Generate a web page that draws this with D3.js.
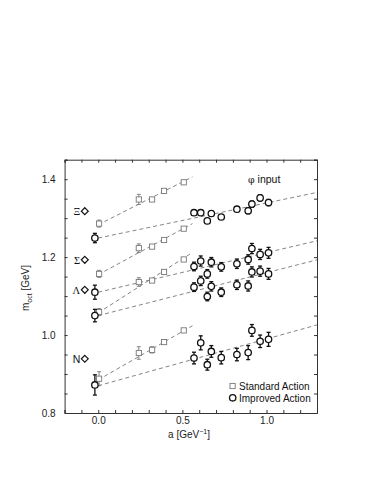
<!DOCTYPE html>
<html><head><meta charset="utf-8">
<script src="https://cdn.jsdelivr.net/npm/d3@7"></script>
<style>body{margin:0;background:#fff}svg{display:block}</style>
</head><body>
<svg id="c" width="382" height="494"></svg>
<script>
// ---- data ----
const xTicks = [0.0, 0.5, 1.0];
const yTicks = [0.8, 1.0, 1.2, 1.4];
const baryons = ["Ξ", "Σ", "Λ", "N"];
const expMass = [1.318, 1.193, 1.116, 0.939];

// Standard action (squares)
const stdA = [0.005, 0.241, 0.32, 0.391, 0.508];
const stdXi = [1.286, 1.348, 1.348, 1.370, 1.392];
const stdXiErr = [0.009, 0.013, 0.004, 0.004, 0.004];
const stdSigma = [1.157, 1.223, 1.227, 1.244, 1.273];
const stdSigmaErr = [0.009, 0.011, 0.004, 0.004, 0.004];
const stdLambda = [1.059, 1.136, 1.140, 1.162, 1.194];
const stdLambdaErr = [0.009, 0.011, 0.004, 0.004, 0.004];
const stdN = [0.888, 0.954, 0.962, 0.982, 1.012];
const stdNErr = [0.018, 0.016, 0.008, 0.005, 0.004];

// Improved action (circles)
const impA = [-0.02, 0.569, 0.609, 0.648, 0.672, 0.731, 0.824, 0.891, 0.913, 0.962, 1.012];
const impXi = [1.249, 1.314, 1.314, 1.293, 1.312, 1.303, 1.323, 1.319, 1.336, 1.352, 1.340];
const impXiErr = [0.012, 0.006, 0.006, 0.006, 0.006, 0.006, 0.006, 0.008, 0.008, 0.008, 0.008];
const impSigma = [1.110, 1.176, 1.190, 1.157, 1.187, 1.175, 1.183, 1.194, 1.222, 1.207, 1.211];
const impSigmaErr = [0.018, 0.011, 0.013, 0.011, 0.012, 0.011, 0.012, 0.012, 0.013, 0.013, 0.014];
const impLambda = [1.050, 1.123, 1.139, 1.099, 1.125, 1.110, 1.129, 1.126, 1.162, 1.164, 1.157];
const impLambdaErr = [0.016, 0.011, 0.012, 0.011, 0.012, 0.011, 0.012, 0.013, 0.013, 0.013, 0.014];
const impN = [0.872, 0.941, 0.980, 0.924, 0.958, 0.942, 0.950, 0.955, 1.012, 0.984, 0.989];
const impNErr = [0.026, 0.015, 0.018, 0.014, 0.015, 0.016, 0.016, 0.018, 0.015, 0.016, 0.018];

// linear fits: [a_start, m_start, a_end, m_end]
const stdFitXi = [0, 1.283, 0.56, 1.406];
const stdFitSigma = [0, 1.155, 0.56, 1.286];
const stdFitLambda = [0, 1.057, 0.56, 1.212];
const stdFitN = [0, 0.885, 0.56, 1.024];
const impFitXi = [0, 1.249, 1.3, 1.366];
const impFitSigma = [0, 1.110, 1.3, 1.242];
const impFitLambda = [0, 1.050, 1.3, 1.193];
const impFitN = [0, 0.870, 1.3, 1.026];

// ---- drawing ----
const svg = d3.select("#c");
const L = 64.6, R = 317, T = 159.7, B = 413;
const x = d3.scaleLinear().domain([-0.2, 1.3]).range([L, R]);
const y = d3.scaleLinear().domain([0.8, 1.45]).range([B, T]);
const sans = "'Liberation Sans', Arial, sans-serif";
const serif = "'Liberation Serif', 'Times New Roman', serif";
const axisCol = "#333";

// frame with inward ticks
const g = svg.append("g");
const minorX = d3.range(-0.2, 1.3001, 0.1);
const minorY = d3.range(0.8, 1.4501, 0.05);
const bx = g.append("g").attr("transform", `translate(0,${B})`).call(d3.axisBottom(x).tickValues(minorX).tickSize(-3).tickFormat(""));
const tx = g.append("g").attr("transform", `translate(0,${T})`).call(d3.axisTop(x).tickValues(minorX).tickSize(-3).tickFormat(""));
const ly = g.append("g").attr("transform", `translate(${L},0)`).call(d3.axisLeft(y).tickValues(minorY).tickSize(-3).tickFormat(""));
const ry = g.append("g").attr("transform", `translate(${R},0)`).call(d3.axisRight(y).tickValues(minorY).tickSize(-3).tickFormat(""));
[bx, tx, ly, ry].forEach(a => { a.select(".domain").attr("stroke", axisCol); a.selectAll("line").attr("stroke", axisCol); });
// labels
const bl = g.append("g").attr("transform", `translate(0,${B})`).call(d3.axisBottom(x).tickValues(xTicks).tickSize(0).tickPadding(4).tickFormat(d3.format(".1f")));
bl.select(".domain").remove();
bl.selectAll("text").attr("font-family", sans).attr("font-size", 10).attr("fill", "#222");
const ll = g.append("g").attr("transform", `translate(${L},0)`).call(d3.axisLeft(y).tickValues(yTicks).tickSize(0).tickPadding(9).tickFormat(d3.format(".1f")));
ll.select(".domain").remove();
ll.selectAll("text").attr("font-family", sans).attr("font-size", 10).attr("fill", "#222");

// axis titles
const xt = svg.append("text").attr("x", 189).attr("y", 437.5).attr("text-anchor", "middle")
  .attr("font-family", sans).attr("font-size", 10).attr("fill", "#222");
xt.append("tspan").text("a [GeV");
xt.append("tspan").attr("font-size", 7).attr("dy", -4).text("−1");
xt.append("tspan").attr("dy", 4).text("]");
const yt = svg.append("text").attr("transform", "translate(29,288) rotate(-90)").attr("text-anchor", "middle")
  .attr("font-family", sans).attr("font-size", 10).attr("fill", "#222");
yt.append("tspan").text("m");
yt.append("tspan").attr("font-size", 7).attr("dy", 3).text("oct");
yt.append("tspan").attr("dy", -3).text(" [GeV]");

// fit lines
const fits = [stdFitXi, stdFitSigma, stdFitLambda, stdFitN, impFitXi, impFitSigma, impFitLambda, impFitN];
svg.append("g").selectAll("line").data(fits).join("line")
  .attr("x1", d => x(d[0])).attr("y1", d => y(d[1]))
  .attr("x2", d => x(d[2])).attr("y2", d => y(d[3]))
  .attr("stroke", "#777").attr("stroke-width", 0.9).attr("stroke-dasharray", "4,3");

// error bars + markers
function series(as, ms, es, col, kind) {
  const pts = as.map((a, i) => ({a, m: ms[i], e: es[i]}));
  const gg = svg.append("g");
  const sw = kind === "sq" ? 0.9 : 1.3;
  gg.selectAll("line.v").data(pts).join("line").attr("class", "v")
    .attr("x1", d => x(d.a)).attr("x2", d => x(d.a)).attr("y1", d => y(d.m - d.e)).attr("y2", d => y(d.m + d.e))
    .attr("stroke", col).attr("stroke-width", sw);
  [1, -1].forEach(s => {
    gg.selectAll("line.c" + (s > 0 ? "p" : "m")).data(pts).join("line").attr("class", "c" + (s > 0 ? "p" : "m"))
      .attr("x1", d => x(d.a) - 2).attr("x2", d => x(d.a) + 2)
      .attr("y1", d => y(d.m + s * d.e)).attr("y2", d => y(d.m + s * d.e))
      .attr("stroke", col).attr("stroke-width", sw);
  });
  if (kind === "sq") {
    gg.selectAll("rect").data(pts).join("rect")
      .attr("x", d => x(d.a) - 2.6).attr("y", d => y(d.m) - 2.6).attr("width", 5.2).attr("height", 5.2)
      .attr("fill", "#fff").attr("stroke", col).attr("stroke-width", 0.9);
  } else {
    gg.selectAll("circle").data(pts).join("circle")
      .attr("cx", d => x(d.a)).attr("cy", d => y(d.m)).attr("r", 3.2)
      .attr("fill", "#fff").attr("stroke", col).attr("stroke-width", 1.3);
  }
}
series(stdA, stdXi, stdXiErr, "#777", "sq");
series(stdA, stdSigma, stdSigmaErr, "#777", "sq");
series(stdA, stdLambda, stdLambdaErr, "#777", "sq");
series(stdA, stdN, stdNErr, "#777", "sq");
series(impA, impXi, impXiErr, "#111", "ci");
series(impA, impSigma, impSigmaErr, "#111", "ci");
series(impA, impLambda, impLambdaErr, "#111", "ci");
series(impA, impN, impNErr, "#111", "ci");

// experimental values: diamonds + labels
const dg = svg.append("g");
dg.selectAll("path").data(expMass).join("path")
  .attr("d", d3.symbol().type(d3.symbolDiamond2).size(30))
  .attr("transform", d => `translate(${x(-0.08)},${y(d)})`)
  .attr("fill", "#fff").attr("stroke", "#111").attr("stroke-width", 1.2);
dg.selectAll("text").data(baryons).join("text")
  .attr("x", x(-0.107)).attr("y", (d, i) => y(expMass[i]) + 3.8).attr("text-anchor", "end")
  .attr("font-family", (d, i) => i === 3 ? sans : serif).attr("font-size", 10.5).attr("fill", "#111")
  .text(d => d);

// phi input
const pt = svg.append("text").attr("x", 248).attr("y", 183).attr("font-size", 10.5).attr("fill", "#111").attr("font-family", sans);
pt.append("tspan").attr("font-family", "'DejaVu Serif', serif").attr("font-size", 9.5).text("φ");
pt.append("tspan").text(" input");

// legend
const lg = svg.append("g");
lg.append("rect").attr("x", 230).attr("y", 383.4).attr("width", 5.2).attr("height", 5.2).attr("fill", "#fff").attr("stroke", "#777").attr("stroke-width", 0.9);
lg.append("text").attr("x", 239).attr("y", 389.5).attr("font-family", sans).attr("font-size", 10).attr("fill", "#111").text("Standard Action");
lg.append("circle").attr("cx", 232.7).attr("cy", 397.8).attr("r", 3.2).attr("fill", "#fff").attr("stroke", "#111").attr("stroke-width", 1.3);
lg.append("text").attr("x", 239).attr("y", 401.5).attr("font-family", sans).attr("font-size", 10).attr("fill", "#111").text("Improved Action");
</script>
</body></html>
